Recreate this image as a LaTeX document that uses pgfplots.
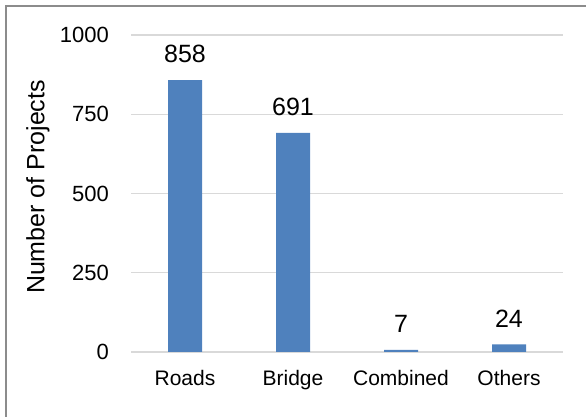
\documentclass[border=0pt]{standalone}
\usepackage{fontspec}
\setmainfont{Liberation Sans}
\usepackage{pgfplots}
\pgfplotsset{compat=1.18}
\definecolor{barblue}{HTML}{4F81BD}
\definecolor{gridgray}{HTML}{D9D9D9}
\definecolor{bordergray}{HTML}{8C8C8C}
\begin{document}
\begin{tikzpicture}[x=1pt,y=1pt]
\useasboundingbox (0,0) rectangle (586,417);
\draw[bordergray, line width=1.5pt] (6,0) -- (6,411) -- (586,411);
\begin{axis}[
  at={(131pt,65pt)}, anchor=south west,
  scale only axis, width=432pt, height=317pt,
  xmin=-0.5, xmax=3.5, ymin=0, ymax=1000,
  enlargelimits=false,
  ytick={0,250,500,750,1000},
  xtick={0,1,2,3},
  xticklabels={Roads,Bridge,Combined,Others},
  axis line style={draw=none},
  major tick length=0pt,
  ymajorgrids, grid style={gridgray, line width=1.3pt},
  /pgf/number format/assume math mode=true,
  /pgf/number format/1000 sep={},
  scaled y ticks=false,
  yticklabel style={font=\fontsize{22}{26}\selectfont, inner sep=0pt, xshift=-22pt, anchor=east},
  xticklabel style={font=\fontsize{21}{25}\selectfont, inner sep=0pt, yshift=-18pt, anchor=north},
  ybar, bar width=34pt,
  nodes near coords,
  every node near coord/.append style={font=\fontsize{25}{29}\selectfont, anchor=south, inner sep=0pt, yshift=17pt, /pgf/number format/assume math mode=true},
  clip=false,
]
\addplot[fill=barblue, draw=none] coordinates {(0,858) (1,691) (2,7) (3,24)};
\end{axis}
\node[rotate=90, font=\fontsize{25}{29}\selectfont] at (38,230) {Number of Projects};
\end{tikzpicture}
\end{document}
